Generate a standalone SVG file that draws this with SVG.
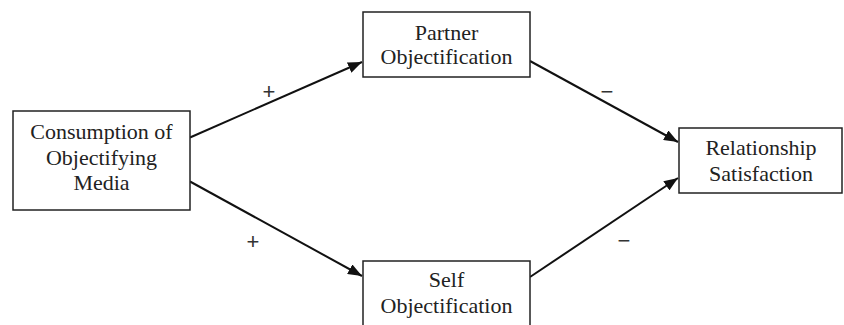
<svg xmlns="http://www.w3.org/2000/svg" width="844" height="325" viewBox="0 0 844 325">
<defs>
<marker id="arr" markerUnits="userSpaceOnUse" markerWidth="15" markerHeight="11" refX="14" refY="5.5" orient="auto">
<path d="M0,0 L14,5.5 L0,11 z" fill="#111"/>
</marker>
<style>
.box{fill:#fff;stroke:#222;stroke-width:1.5}
.t{font-family:"Liberation Serif","Times New Roman",serif;font-size:22px;fill:#222;text-anchor:middle}
.e{stroke:#111;stroke-width:2;fill:none;marker-end:url(#arr)}
.s{font-family:"Liberation Sans",Arial,sans-serif;font-size:22px;fill:#333;text-anchor:middle}
</style>
</defs>
<rect width="844" height="325" fill="#fff"/>
<g id="connectors">
<line class="e" x1="190" y1="137.5" x2="362" y2="62"/>
<line class="e" x1="190" y1="181.5" x2="362" y2="276"/>
<line class="e" x1="530" y1="61" x2="678" y2="142"/>
<line class="e" x1="530" y1="277" x2="678" y2="178"/>
<text class="s" x="269" y="99">+</text>
<text class="s" x="253" y="249">+</text>
<text class="s" x="607" y="99">−</text>
<text class="s" x="624" y="248">−</text>
</g>
<g id="media">
<rect class="box" x="13" y="111" width="177" height="99"/>
<text class="t" x="101.5" y="139">Consumption of</text>
<text class="t" x="101.5" y="164.5">Objectifying</text>
<text class="t" x="101.5" y="190">Media</text>
</g>
<g id="partner">
<rect class="box" x="363" y="12" width="167" height="65"/>
<text class="t" x="446.5" y="39.5">Partner</text>
<text class="t" x="446.5" y="64">Objectification</text>
</g>
<g id="self">
<rect class="box" x="363" y="261" width="167" height="70"/>
<text class="t" x="446.5" y="287">Self</text>
<text class="t" x="446.5" y="313">Objectification</text>
</g>
<g id="satisfaction">
<rect class="box" x="679" y="128" width="163" height="65"/>
<text class="t" x="761" y="155">Relationship</text>
<text class="t" x="761" y="181">Satisfaction</text>
</g>
</svg>
